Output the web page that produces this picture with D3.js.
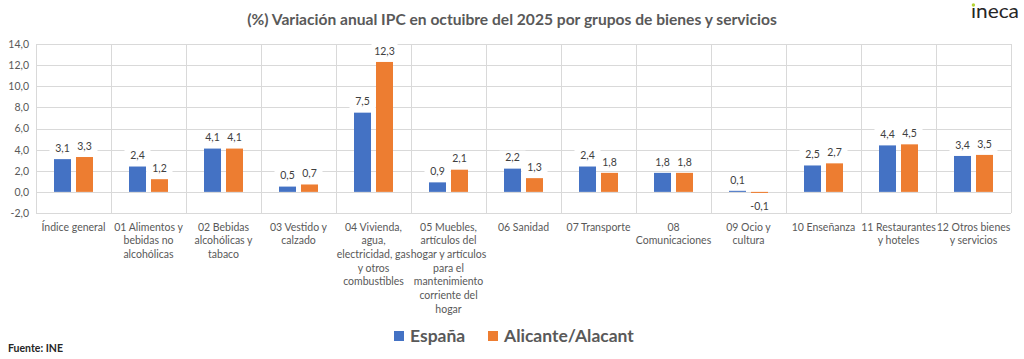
<!DOCTYPE html>
<html><head><meta charset="utf-8">
<script src="https://cdn.jsdelivr.net/npm/d3@7"></script>
<style>
html,body{margin:0;padding:0;background:#fff;}
svg{display:block;font-family:Lato,"Open Sans",sans-serif;}
</style></head>
<body>
<svg id="chart" width="1024" height="359"></svg>
<script>
const categories = [
  ["Índice general"],
  ["01 Alimentos y","bebidas no","alcohólicas"],
  ["02 Bebidas","alcohólicas y","tabaco"],
  ["03 Vestido y","calzado"],
  ["04 Vivienda,","agua,","electricidad, gas","y otros","combustibles"],
  ["05 Muebles,","artículos del","hogar y artículos","para el","mantenimiento","corriente del","hogar"],
  ["06 Sanidad"],
  ["07 Transporte"],
  ["08","Comunicaciones"],
  ["09 Ocio y","cultura"],
  ["10 Enseñanza"],
  ["11 Restaurantes","y hoteles"],
  ["12 Otros bienes","y servicios"]
];
const seriesNames = ["España","Alicante/Alacant"];
const espana   = [3.1, 2.4, 4.1, 0.5, 7.5, 0.9, 2.2, 2.4, 1.8, 0.1, 2.5, 4.4, 3.4];
const alicante = [3.3, 1.2, 4.1, 0.7, 12.3, 2.1, 1.3, 1.8, 1.8, -0.1, 2.7, 4.5, 3.5];
const yTicks = [-2, 0, 2, 4, 6, 8, 10, 12, 14];
const colors = ["#4472C4","#ED7D31"];

const svg = d3.select("#chart");
const L = 36, R = 1011, T = 44, B = 213;
const keys = categories.map((c,i)=>i);
const x0 = d3.scaleBand().domain(keys).range([L,R]).padding(0);
const bw = x0.bandwidth();
const groupW = bw*0.52;
const x1 = d3.scaleBand().domain(seriesNames).range([(bw-groupW)/2,(bw+groupW)/2]).paddingInner(0.227).paddingOuter(0);
const y = d3.scaleLinear().domain([-2,14]).range([B,T]);
const fmt = v => d3.format(".1f")(v).replace(".",",").replace("−","-");

// horizontal gridlines
svg.append("g").selectAll("line").data(yTicks).join("line")
  .attr("x1",L).attr("x2",R).attr("y1",d=>Math.round(y(d))+0.5).attr("y2",d=>Math.round(y(d))+0.5)
  .attr("stroke","#d9d9d9").attr("stroke-width",1);
// vertical gridlines
svg.append("g").selectAll("line").data(keys.concat([keys.length])).join("line")
  .attr("x1",d=>Math.round(L+d*bw)+0.5).attr("x2",d=>Math.round(L+d*bw)+0.5)
  .attr("y1",T).attr("y2",B).attr("stroke","#d9d9d9").attr("stroke-width",1);

// y axis
const yAxis = d3.axisLeft(y).tickValues(yTicks).tickFormat(fmt).tickSize(0).tickPadding(7);
const ya = svg.append("g").attr("transform",`translate(${L},0)`).call(yAxis);
ya.select(".domain").remove();
ya.selectAll("text").attr("fill","#595959").style("font-size","10.5px").style("font-family","Lato,sans-serif");

// bars
const data = [];
keys.forEach(i=>{
  data.push({i, s:seriesNames[0], v:espana[i], c:colors[0]});
  data.push({i, s:seriesNames[1], v:alicante[i], c:colors[1]});
});
svg.append("g").selectAll("rect").data(data).join("rect")
  .attr("x",d=>x0(d.i)+x1(d.s))
  .attr("width",x1.bandwidth())
  .attr("y",d=>y(Math.max(0,d.v)))
  .attr("height",d=>Math.max(1,Math.abs(y(d.v)-y(0))))
  .attr("fill",d=>d.c);

// value labels
const lab = svg.append("g").selectAll("g").data(data).join("g")
  .attr("transform",d=>{
    const cx = x0(d.i)+x1(d.s)+x1.bandwidth()/2;
    const cy = d.v>=0 ? y(d.v)-11 : y(d.v)+13;
    return `translate(${cx},${cy})`;
  });
lab.append("rect").attr("x",-13).attr("y",-7).attr("width",26).attr("height",14).attr("fill","#fff");
lab.append("text").attr("text-anchor","middle").attr("dy","0.35em")
  .attr("fill","#404040").style("font-size","10.5px").text(d=>fmt(d.v));

// category labels
const cl = svg.append("g").selectAll("text").data(keys).join("text")
  .attr("x",d=>x0(d)+bw/2).attr("y",227).attr("text-anchor","middle")
  .attr("fill","#595959").style("font-size","10.5px");
cl.selectAll("tspan").data(d=>categories[d]).join("tspan")
  .attr("x",function(){return d3.select(this.parentNode).attr("x");})
  .attr("dy",(d,j)=>j===0?"0.35em":"13.7px").text(d=>d);

// title
svg.append("text").attr("x",512).attr("y",25).attr("text-anchor","middle")
  .attr("fill","#595959").style("font-size","15.6px").style("font-weight","bold")
  .text("(%) Variación anual IPC en octuibre del 2025 por grupos de bienes y servicios");

// logo
svg.append("text").attr("x",971).attr("y",18).attr("text-anchor","start")
  .attr("fill","#262626").style("font-size","19px")
  .attr("textLength",48).attr("lengthAdjust","spacingAndGlyphs").text("\u0131neca");
svg.append("circle").attr("cx",973.4).attr("cy",5).attr("r",1.7).attr("fill","#b5d334");

// legend
const lg = svg.append("g");
const legX = [394, 488];
seriesNames.forEach((n,k)=>{
  lg.append("rect").attr("x",legX[k]).attr("y",331).attr("width",10).attr("height",10).attr("fill",colors[k]);
  lg.append("text").attr("x",legX[k]+16).attr("y",336).attr("dy","0.35em")
    .attr("fill","#595959").style("font-size","17.5px").style("font-weight","bold").text(n);
});

// source
svg.append("text").attr("x",8).attr("y",348).attr("dy","0.35em")
  .attr("fill","#262626").style("font-size","10.5px").style("font-weight","bold").text("Fuente: INE");
</script>
</body></html>
